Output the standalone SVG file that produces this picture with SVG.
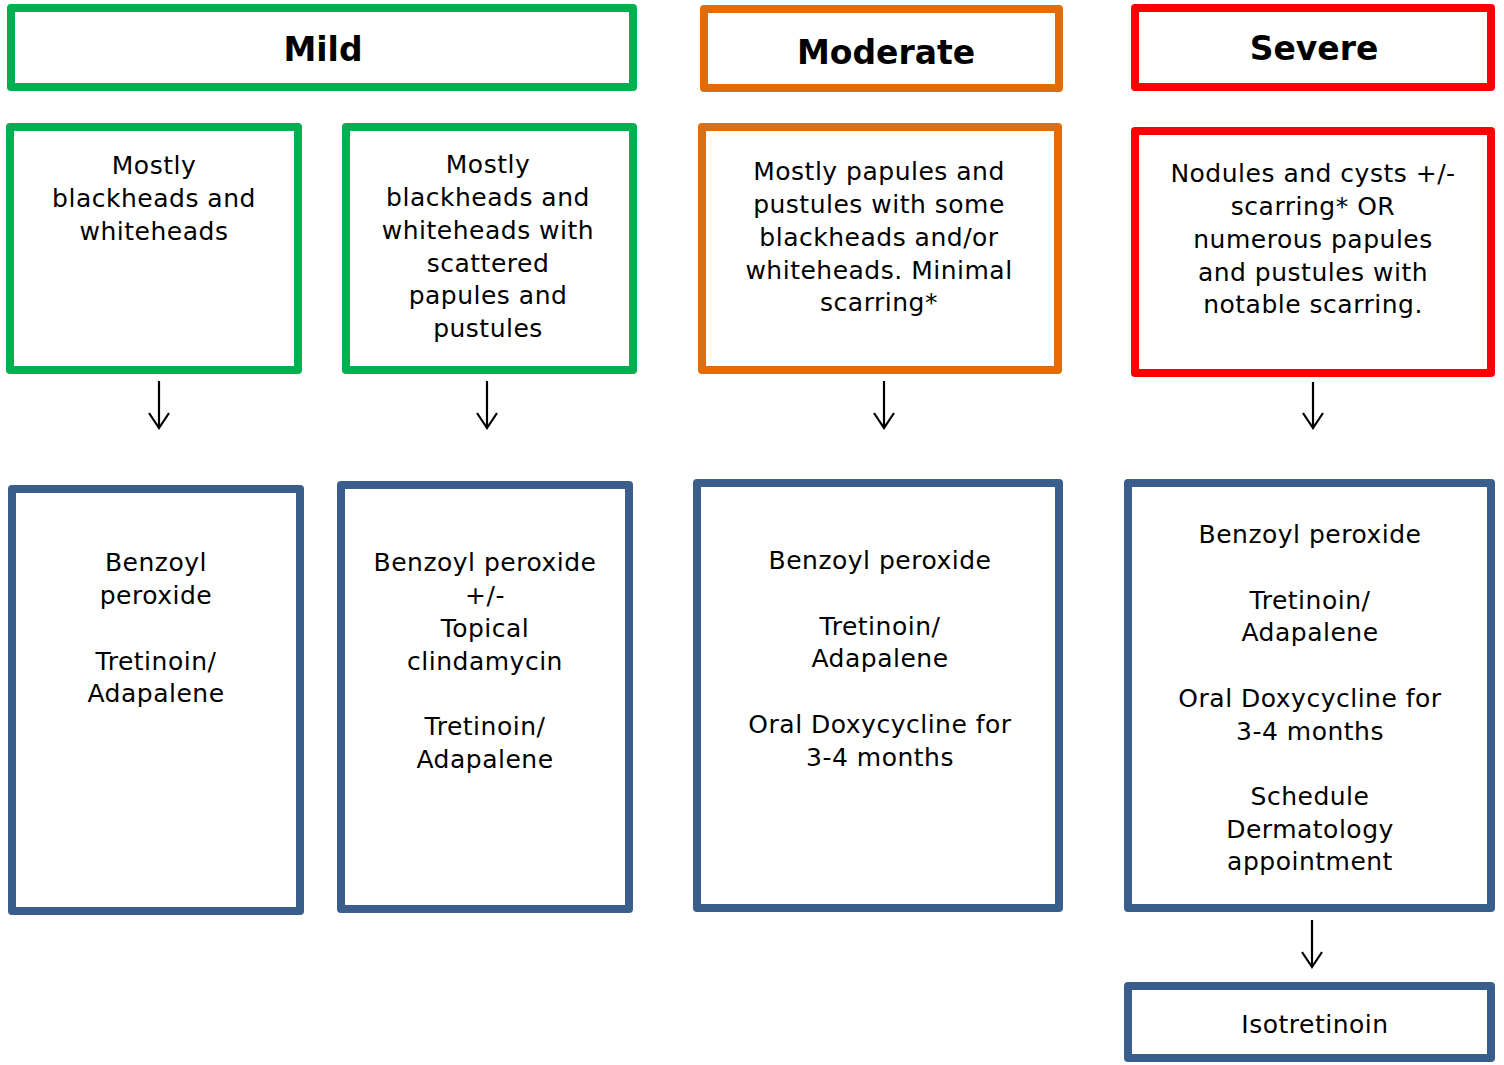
<svg xmlns="http://www.w3.org/2000/svg" width="1504" height="1065" viewBox="0 0 1504 1065">
<style>
.box{fill:#fff;stroke-width:8;stroke-linejoin:round}
.g{stroke:#00B050}.o{stroke:#E36C0A}.r{stroke:#FF0000}.b{stroke:#3A5E8C}
text{font-family:"DejaVu Sans","Liberation Sans",sans-serif;fill:#000;text-anchor:middle}
.t{font-size:25px;letter-spacing:0.5px}
.h{font-size:33px;font-weight:bold}
.arr{fill:none;stroke:#000;stroke-width:2.2}
</style>
<rect width="1504" height="1065" fill="#fff"/>
<g id="mild-header"><rect class="box g" x="11" y="8" width="622" height="79"/><text class="h" x="323" y="61">Mild</text></g>
<g id="moderate-header"><rect class="box o" x="704" y="9" width="355" height="79"/><text class="h" x="886" y="64">Moderate</text></g>
<g id="severe-header"><rect class="box r" x="1135" y="8" width="356" height="79"/><text class="h" x="1314" y="60">Severe</text></g>

<g id="mild1"><rect class="box g" x="10" y="127" width="288" height="243"/>
<text class="t" x="154"><tspan x="154" y="174">Mostly</tspan><tspan x="154" y="207">blackheads and</tspan><tspan x="154" y="240">whiteheads</tspan></text></g>
<g id="mild2"><rect class="box g" x="346" y="127" width="287" height="243"/>
<text class="t" x="488"><tspan x="488" y="173">Mostly</tspan><tspan x="488" y="206">blackheads and</tspan><tspan x="488" y="239">whiteheads with</tspan><tspan x="488" y="272">scattered</tspan><tspan x="488" y="304">papules and</tspan><tspan x="488" y="337">pustules</tspan></text></g>
<g id="moderate1"><rect class="box o" x="702" y="127" width="356" height="243"/>
<text class="t" x="879"><tspan x="879" y="180">Mostly papules and</tspan><tspan x="879" y="213">pustules with some</tspan><tspan x="879" y="246">blackheads and/or</tspan><tspan x="879" y="279">whiteheads. Minimal</tspan><tspan x="879" y="311">scarring*</tspan></text></g>
<g id="severe1"><rect class="box r" x="1135" y="131" width="356" height="242"/>
<text class="t" x="1313"><tspan x="1313" y="182">Nodules and cysts +/-</tspan><tspan x="1313" y="215">scarring* OR</tspan><tspan x="1313" y="248">numerous papules</tspan><tspan x="1313" y="281">and pustules with</tspan><tspan x="1313" y="313">notable scarring.</tspan></text></g>

<g id="treat1"><rect class="box b" x="12" y="489" width="288" height="422"/>
<text class="t" x="156"><tspan x="156" y="571">Benzoyl</tspan><tspan x="156" y="604">peroxide</tspan><tspan x="156" y="670">Tretinoin/</tspan><tspan x="156" y="702">Adapalene</tspan></text></g>
<g id="treat2"><rect class="box b" x="341" y="485" width="288" height="424"/>
<text class="t" x="485"><tspan x="485" y="571">Benzoyl peroxide</tspan><tspan x="485" y="604">+/-</tspan><tspan x="485" y="637">Topical</tspan><tspan x="485" y="670">clindamycin</tspan><tspan x="485" y="735">Tretinoin/</tspan><tspan x="485" y="768">Adapalene</tspan></text></g>
<g id="treat3"><rect class="box b" x="697" y="483" width="362" height="425"/>
<text class="t" x="880"><tspan x="880" y="569">Benzoyl peroxide</tspan><tspan x="880" y="635">Tretinoin/</tspan><tspan x="880" y="667">Adapalene</tspan><tspan x="880" y="733">Oral Doxycycline for</tspan><tspan x="880" y="766">3-4 months</tspan></text></g>
<g id="treat4"><rect class="box b" x="1128" y="483" width="363" height="425"/>
<text class="t" x="1310"><tspan x="1310" y="543">Benzoyl peroxide</tspan><tspan x="1310" y="609">Tretinoin/</tspan><tspan x="1310" y="641">Adapalene</tspan><tspan x="1310" y="707">Oral Doxycycline for</tspan><tspan x="1310" y="740">3-4 months</tspan><tspan x="1310" y="805">Schedule</tspan><tspan x="1310" y="838">Dermatology</tspan><tspan x="1310" y="870">appointment</tspan></text></g>
<g id="isotretinoin"><rect class="box b" x="1128" y="986" width="363" height="72"/>
<text class="t" x="1315" y="1033">Isotretinoin</text></g>

<g id="connectors" class="arr">
<path d="M159 381V428M149 413L159 428L169 413"/>
<path d="M487 381V428M477 413L487 428L497 413"/>
<path d="M884 381V428M874 413L884 428L894 413"/>
<path d="M1313 382V428M1303 413L1313 428L1323 413"/>
<path d="M1312 920V967M1302 952L1312 967L1322 952"/>
</g>
</svg>
